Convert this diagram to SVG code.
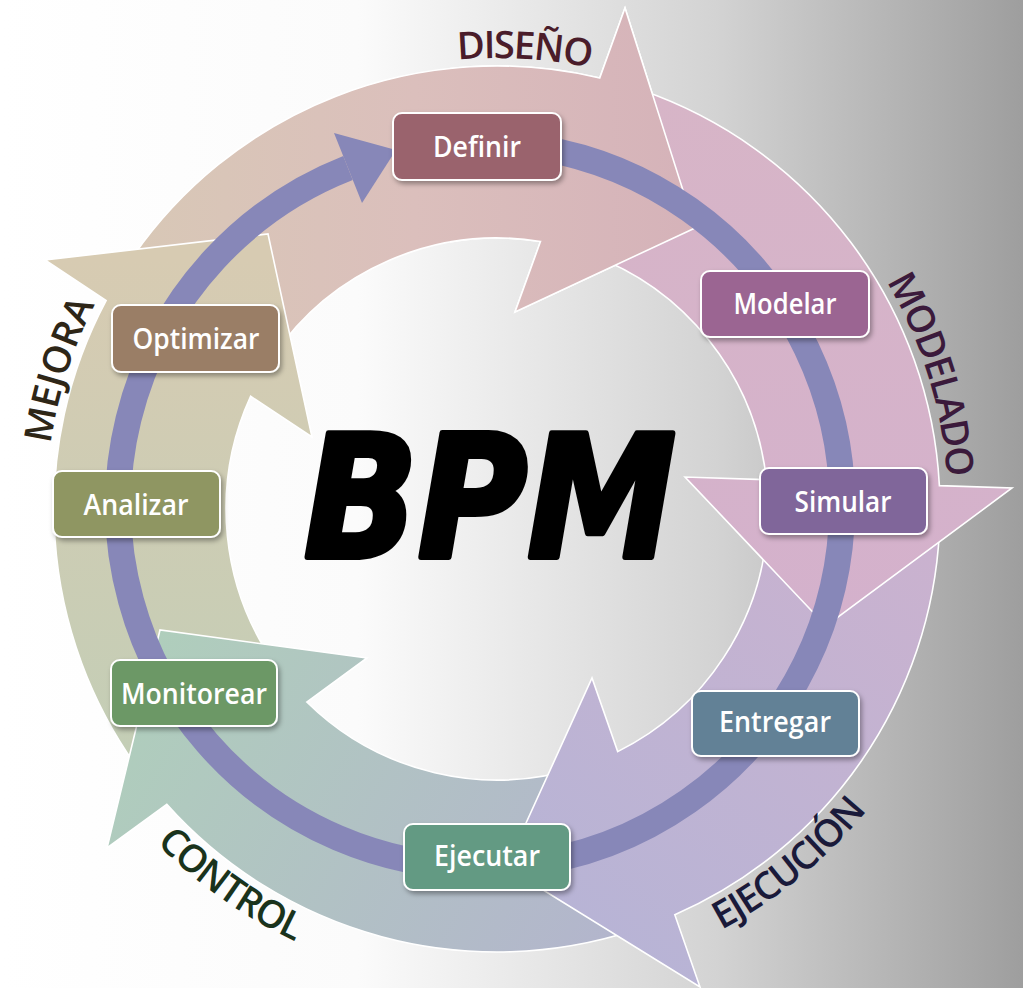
<svg xmlns="http://www.w3.org/2000/svg" width="1023" height="988" viewBox="0 0 1023 988">
<defs>
<linearGradient id="bg" x1="0" y1="0" x2="1" y2="0">
<stop offset="0" stop-color="#ffffff"/>
<stop offset="0.35" stop-color="#fbfbfb"/>
<stop offset="0.7" stop-color="#d3d3d3"/>
<stop offset="1" stop-color="#9e9e9e"/>
</linearGradient>
<linearGradient id="gD" gradientUnits="userSpaceOnUse" x1="130" y1="0" x2="700" y2="0">
<stop offset="0" stop-color="#d8c8b6"/>
<stop offset="0.5" stop-color="#dbbfbc"/>
<stop offset="1" stop-color="#d5b2b9"/>
</linearGradient>
<linearGradient id="gMo" gradientUnits="userSpaceOnUse" x1="0" y1="90" x2="0" y2="630">
<stop offset="0" stop-color="#d7b5c7"/>
<stop offset="1" stop-color="#d4b1cc"/>
</linearGradient>
<linearGradient id="gE" gradientUnits="userSpaceOnUse" x1="900" y1="530" x2="560" y2="960">
<stop offset="0" stop-color="#cab2cf"/>
<stop offset="1" stop-color="#b6b4d6"/>
</linearGradient>
<linearGradient id="gC" gradientUnits="userSpaceOnUse" x1="120" y1="650" x2="640" y2="940">
<stop offset="0" stop-color="#afcfbb"/>
<stop offset="1" stop-color="#b3b4cd"/>
</linearGradient>
<linearGradient id="gMe" gradientUnits="userSpaceOnUse" x1="0" y1="260" x2="0" y2="770">
<stop offset="0" stop-color="#d7cbb2"/>
<stop offset="1" stop-color="#c3ceb6"/>
</linearGradient>
<clipPath id="rightClip"><rect x="450" y="0" width="573" height="988"/></clipPath>
<filter id="shadow" x="-20%" y="-20%" width="140%" height="150%">
<feDropShadow dx="2" dy="3" stdDeviation="2.5" flood-color="#000" flood-opacity="0.35"/>
</filter>
<path id="cw" d="M 497 960 A 451 451 0 1 1 497 58 A 451 451 0 1 1 497 960"/>
<path id="ccw" d="M 497 32 A 477 477 0 1 0 497 986 A 477 477 0 1 0 497 32"/>
<style>
.band{stroke:#ffffff;stroke-width:1.6;stroke-linejoin:miter}
.box{stroke:#ffffff;stroke-width:2;filter:url(#shadow)}
.boxtxt{font-family:"Open Sans","DejaVu Sans",sans-serif;font-weight:600;font-size:29px;fill:#ffffff;text-anchor:middle}
.lbl{font-family:"Open Sans","DejaVu Sans",sans-serif;font-weight:600;font-size:38px;letter-spacing:-1.5px;text-anchor:middle}
.bpm{font-family:"DejaVu Sans",sans-serif;font-weight:bold;font-style:oblique;font-size:170px;fill:#000;stroke:#000;stroke-width:6;stroke-linejoin:round;text-anchor:middle}
</style>
</defs>
<rect x="0" y="0" width="1023" height="988" fill="url(#bg)"/>

<g id="connectors">
<path id="arrow-diseno" class="band" fill="url(#gD)" d="M 129.7 261.3 A 443 443 0 0 1 599.7 78 L 625 8 L 695 228 L 515 312 L 540.5 241.5 A 271 271 0 0 0 272.3 357.5 Z"/>
<path id="arrow-mejora" class="band" fill="url(#gMe)" d="M 138.6 769.4 A 443 443 0 0 1 106.1 300.5 L 45 260 L 268 234 L 312 437 L 250.6 396.3 A 271 271 0 0 0 277.8 668.3 Z"/>
<path id="arrow-control" class="band" fill="url(#gC)" d="M 633.9 930.3 A 443 443 0 0 1 166.8 804.3 L 107 848 L 160 630 L 367 658 L 306.8 702 A 271 271 0 0 0 580.7 766.7 Z"/>
<path id="arrow-ejecucion" class="band" fill="url(#gE)" d="M 939.4 532.2 A 443 443 0 0 1 674.8 914.8 L 700 987 L 506 867 L 592 678 L 617.7 751.6 A 271 271 0 0 0 767.6 523.2 Z"/>
<path id="arrow-modelado" class="band" fill="url(#gMo)" d="M 641.2 90.1 A 443 443 0 0 1 939.4 485.6 L 1012 488 L 826 626 L 685 477 L 766.4 479.7 A 271 271 0 0 0 585.2 252.8 Z"/>
<path id="arrow-diseno-top" class="band" fill="url(#gD)" clip-path="url(#rightClip)" d="M 129.7 261.3 A 443 443 0 0 1 599.7 78 L 625 8 L 695 228 L 515 312 L 540.5 241.5 A 271 271 0 0 0 272.3 357.5 Z"/>
<path id="cycle-line" fill="none" stroke="#8787b8" stroke-width="26" d="M 540 148 A 362 362 0 1 1 348 168"/>
<polygon id="cycle-head" fill="#8787b8" points="334,133 396,150 362,203"/>
</g>

<g id="labels">
<text class="lbl" fill="#4a1c2a"><textPath href="#cw" startOffset="50.94%">DISEÑO</textPath></text>
<text class="lbl" fill="#3b1a3b"><textPath href="#cw" startOffset="70.21%">MODELADO</textPath></text>
<text class="lbl" fill="#2e2617" style="letter-spacing:0px"><textPath href="#cw" startOffset="29.89%">MEJORA</textPath></text>
<text class="lbl" fill="#1a1a3a"><textPath href="#ccw" startOffset="60.94%">EJECUCIÓN</textPath></text>
<text class="lbl" fill="#1a331c"><textPath href="#ccw" startOffset="40.17%">CONTROL</textPath></text>
</g>

<g id="center-title">
<text class="bpm" x="490" y="557" textLength="372" lengthAdjust="spacingAndGlyphs">BPM</text>
</g>

<g id="node-definir">
<rect class="box" x="393" y="113" width="168" height="67" rx="9" fill="#9a636d"/>
<text class="boxtxt" x="477" y="157" textLength="88" lengthAdjust="spacingAndGlyphs">Definir</text>
</g>
<g id="node-modelar">
<rect class="box" x="701" y="271" width="168" height="66" rx="9" fill="#9b6592"/>
<text class="boxtxt" x="785" y="314" textLength="103" lengthAdjust="spacingAndGlyphs">Modelar</text>
</g>
<g id="node-simular">
<rect class="box" x="760" y="468" width="167" height="66" rx="9" fill="#80669a"/>
<text class="boxtxt" x="843" y="512" textLength="97" lengthAdjust="spacingAndGlyphs">Simular</text>
</g>
<g id="node-entregar">
<rect class="box" x="692" y="691" width="167" height="65" rx="9" fill="#628196"/>
<text class="boxtxt" x="775" y="732" textLength="112" lengthAdjust="spacingAndGlyphs">Entregar</text>
</g>
<g id="node-ejecutar">
<rect class="box" x="404" y="824" width="166" height="66" rx="9" fill="#639a83"/>
<text class="boxtxt" x="487" y="866" textLength="106" lengthAdjust="spacingAndGlyphs">Ejecutar</text>
</g>
<g id="node-monitorear">
<rect class="box" x="111" y="660" width="166" height="66" rx="9" fill="#6c9866"/>
<text class="boxtxt" x="194" y="704" textLength="146" lengthAdjust="spacingAndGlyphs">Monitorear</text>
</g>
<g id="node-analizar">
<rect class="box" x="53" y="471" width="167" height="66" rx="9" fill="#8f9662"/>
<text class="boxtxt" x="136" y="515" textLength="105" lengthAdjust="spacingAndGlyphs">Analizar</text>
</g>
<g id="node-optimizar">
<rect class="box" x="112" y="305" width="167" height="67" rx="9" fill="#9a7e66"/>
<text class="boxtxt" x="196" y="349" textLength="127" lengthAdjust="spacingAndGlyphs">Optimizar</text>
</g>
</svg>
